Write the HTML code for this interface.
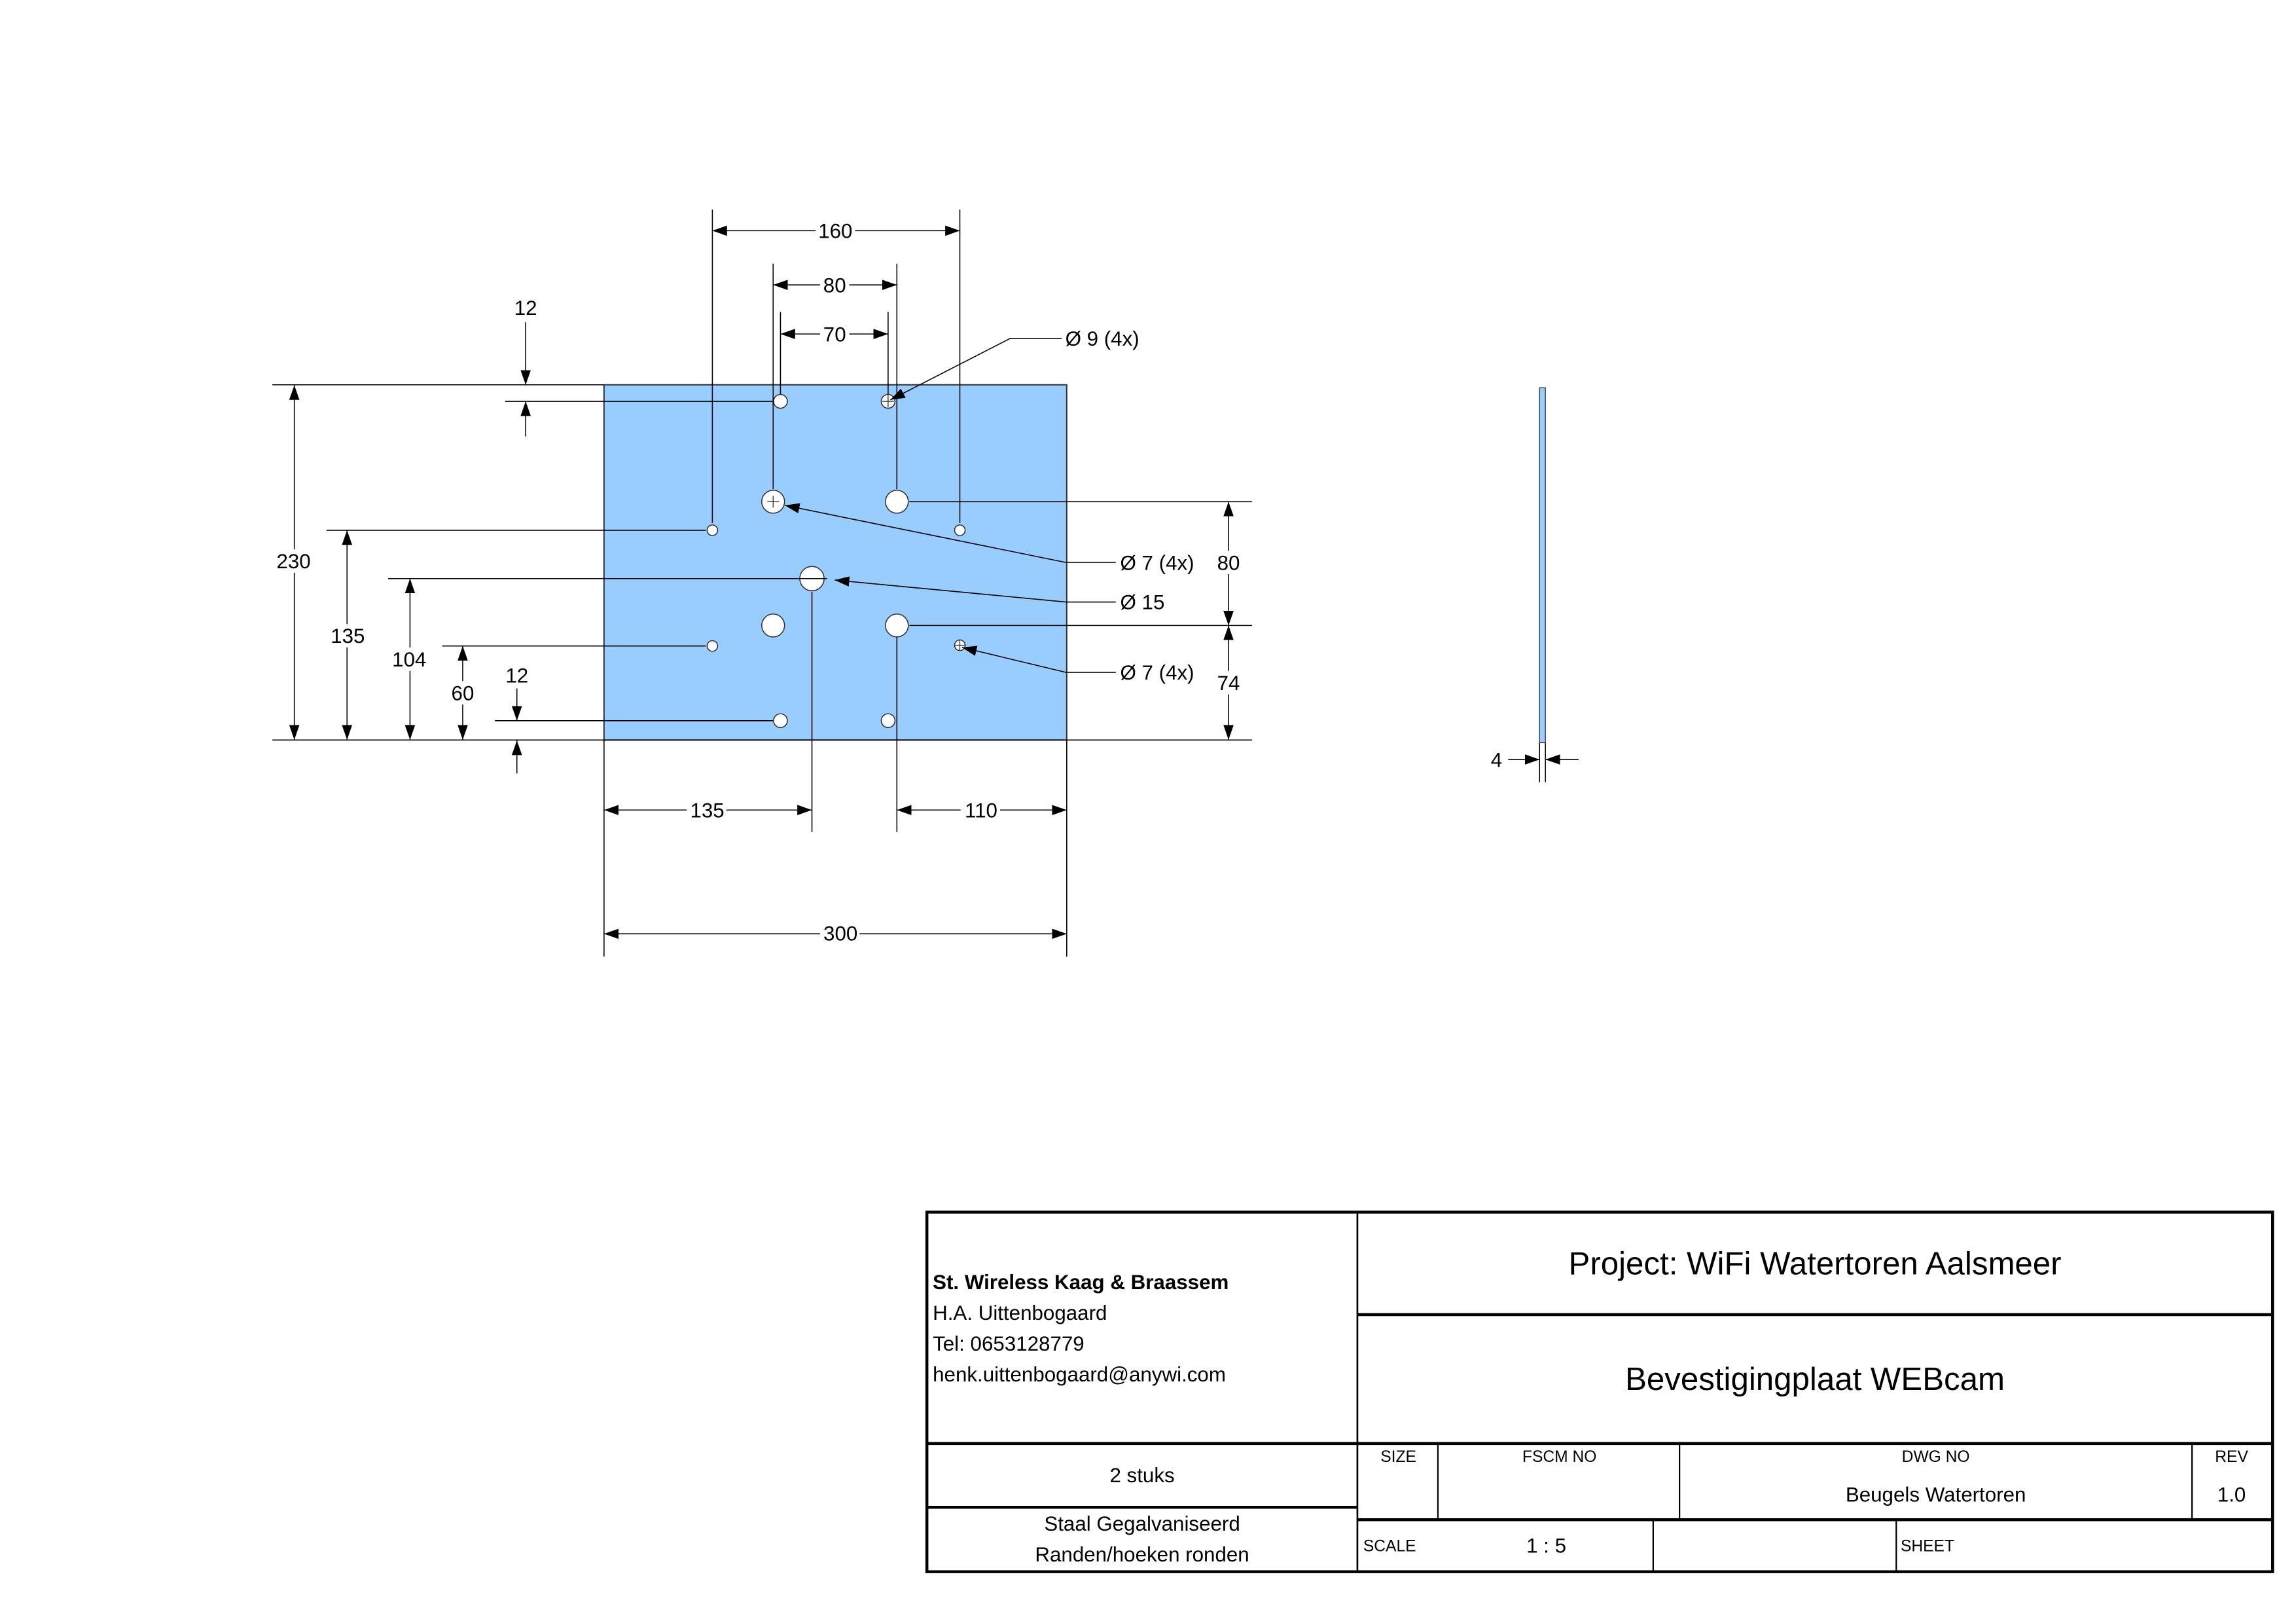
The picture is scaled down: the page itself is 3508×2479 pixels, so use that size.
<!DOCTYPE html>
<html><head><meta charset="utf-8"><style>
html,body{margin:0;padding:0;background:#fff;}
svg{display:block;}
text{font-family:"Liberation Sans",sans-serif;fill:#000;}
</style></head><body>
<svg width="3508" height="2479" viewBox="0 0 1568 1108" preserveAspectRatio="none" xmlns="http://www.w3.org/2000/svg">
<defs>
<marker id="a" viewBox="0 0 10 10" refX="10" refY="5" markerWidth="10" markerHeight="10" markerUnits="userSpaceOnUse" orient="auto-start-reverse"><path d="M0,1.5 L10,5 L0,8.5 Z" fill="#000"/></marker>
</defs>
<!-- plate -->
<rect x="412.5" y="262.7" width="316" height="242.5" fill="#99ccff" stroke="#333" stroke-width="0.9"/>
<g fill="#fff" stroke="#333" stroke-width="0.7">
<circle cx="533" cy="274" r="4.7"/><circle cx="606.5" cy="274" r="4.7"/>
<circle cx="533" cy="492" r="4.7"/><circle cx="606.5" cy="492" r="4.7"/>
<circle cx="528" cy="342.5" r="7.8"/><circle cx="612.5" cy="342.5" r="7.8"/>
<circle cx="528" cy="427" r="7.8"/><circle cx="612.5" cy="427" r="7.8"/>
<circle cx="486.5" cy="362" r="3.6"/><circle cx="655.5" cy="362" r="3.6"/>
<circle cx="486.5" cy="441" r="3.6"/><circle cx="655.5" cy="440.5" r="3.6"/>
<circle cx="554.5" cy="395" r="8.3"/>
</g>
<g stroke="#333" stroke-width="0.6" fill="none">
<path d="M602.5,274h8M606.5,270v8M524,342.5h8M528,338.5v8M651.5,440.5h8M655.5,436.5v8"/>
</g>
<!-- extension lines -->
<g stroke="#000" stroke-width="0.7" fill="none">
<path d="M486.5,143V357M655.5,143V357M528,180V334M612.5,180V334M533,213V269M606.5,213V269"/>
<path d="M186,262.7H412.5M186,505.2H855M345,274H528M223,362H482M265,395H565M302,441H482M338,492H528"/>
<path d="M621,342.5H855M621,427H855"/>
<path d="M554.5,404V568M612.5,435V568M412.5,505V653M728.5,505V653"/>
<path d="M1051.4,507V534M1055.4,507V534"/>
</g>
<!-- dimension lines -->
<g stroke="#000" stroke-width="0.7" fill="none" marker-start="url(#a)" marker-end="url(#a)">
<path d="M486.5,157.5H655.5"/>
<path d="M528,194.5H612.5"/>
<path d="M533,228H606.5"/>
<path d="M201,263V505"/>
<path d="M237,362V505"/>
<path d="M280,395V505"/>
<path d="M316,441V505"/>
<path d="M839,342.5V427"/>
<path d="M839,427V505"/>
<path d="M412.5,553H554.5"/>
<path d="M612.5,553H728.5"/>
<path d="M412.5,637.5H728.5"/>
</g>
<g stroke="#000" stroke-width="0.7" fill="none" marker-end="url(#a)">
<path d="M359,220V262.7"/><path d="M359,298V274"/>
<path d="M353,470V492"/><path d="M353,528V505.5"/>
<path d="M1030,518.5H1051.4"/><path d="M1078,518.5H1055.4"/>
<path d="M725,231H690L608,273"/>
<path d="M762,384H728L536,345"/>
<path d="M762,411H728L570,396"/>
<path d="M762,459H728L657,442"/>
</g>
<!-- dim text with white background -->
<g font-size="14" text-anchor="middle">
<rect x="557" y="149" width="27" height="16" fill="#fff"/><text x="570.5" y="162.5">160</text>
<rect x="560" y="186" width="20" height="16" fill="#fff"/><text x="570" y="199.5">80</text>
<rect x="560" y="220" width="20" height="16" fill="#fff"/><text x="570" y="233">70</text>
<text x="359" y="215">12</text>
<rect x="187" y="375" width="27" height="16" fill="#fff"/><text x="200.5" y="388">230</text>
<rect x="224" y="426" width="27" height="16" fill="#fff"/><text x="237.5" y="439">135</text>
<rect x="266" y="442" width="27" height="16" fill="#fff"/><text x="279.5" y="455">104</text>
<rect x="306" y="465" width="20" height="16" fill="#fff"/><text x="316" y="478">60</text>
<text x="353" y="466">12</text>
<rect x="829" y="376" width="20" height="16" fill="#fff"/><text x="839" y="389">80</text>
<rect x="829" y="458" width="20" height="16" fill="#fff"/><text x="839" y="471">74</text>
<rect x="469" y="545" width="27" height="16" fill="#fff"/><text x="483" y="558">135</text>
<rect x="656" y="545" width="27" height="16" fill="#fff"/><text x="670" y="558">110</text>
<rect x="560" y="629" width="27" height="16" fill="#fff"/><text x="574" y="642">300</text>
<text x="1022" y="523.5">4</text>
</g>
<g font-size="14">
<text x="727.5" y="236">Ø 9 (4x)</text>
<text x="765" y="389">Ø 7 (4x)</text>
<text x="765" y="416">Ø 15</text>
<text x="765" y="464">Ø 7 (4x)</text>
</g>
<!-- side view -->
<rect x="1051.4" y="264.7" width="4" height="242.3" fill="#99ccff" stroke="#333" stroke-width="0.6"/>
<!-- title block -->
<g stroke="#000" fill="none">
<rect x="633" y="827.5" width="919" height="245.5" stroke-width="2"/>
<path d="M927,827.5V1073" stroke-width="1.2"/>
<path d="M633,985.5H1552M927,1037.5H1552M633,1029H927M927,897.5H1552" stroke-width="2"/>
<path d="M982,985.5V1037.5M1147,985.5V1037.5M1497,985.5V1037.5M1129,1037.5V1073M1295,1037.5V1073" stroke-width="1"/>
</g>
<g font-size="14">
<text x="637" y="880" font-weight="bold">St. Wireless Kaag &amp; Braassem</text>
<text x="637" y="901">H.A. Uittenbogaard</text>
<text x="637" y="922">Tel: 0653128779</text>
<text x="637" y="943">henk.uittenbogaard@anywi.com</text>
</g>
<g text-anchor="middle">
<text x="1239.5" y="870" font-size="22">Project: WiFi Watertoren Aalsmeer</text>
<text x="1239.5" y="949" font-size="22">Bevestigingplaat WEBcam</text>
<text x="780" y="1012" font-size="14">2 stuks</text>
<text x="780" y="1045" font-size="14">Staal Gegalvaniseerd</text>
<text x="780" y="1066" font-size="14">Randen/hoeken ronden</text>
<text x="955" y="998" font-size="11">SIZE</text>
<text x="1065" y="998" font-size="11">FSCM NO</text>
<text x="1322" y="998" font-size="11">DWG NO</text>
<text x="1524" y="998" font-size="11">REV</text>
<text x="1322" y="1025" font-size="14">Beugels Watertoren</text>
<text x="1524" y="1025" font-size="14">1.0</text>
<text x="1056" y="1060" font-size="14">1 : 5</text>
</g>
<text x="931" y="1059" font-size="11">SCALE</text>
<text x="1298" y="1059" font-size="11">SHEET</text>
</svg>
</body></html>
